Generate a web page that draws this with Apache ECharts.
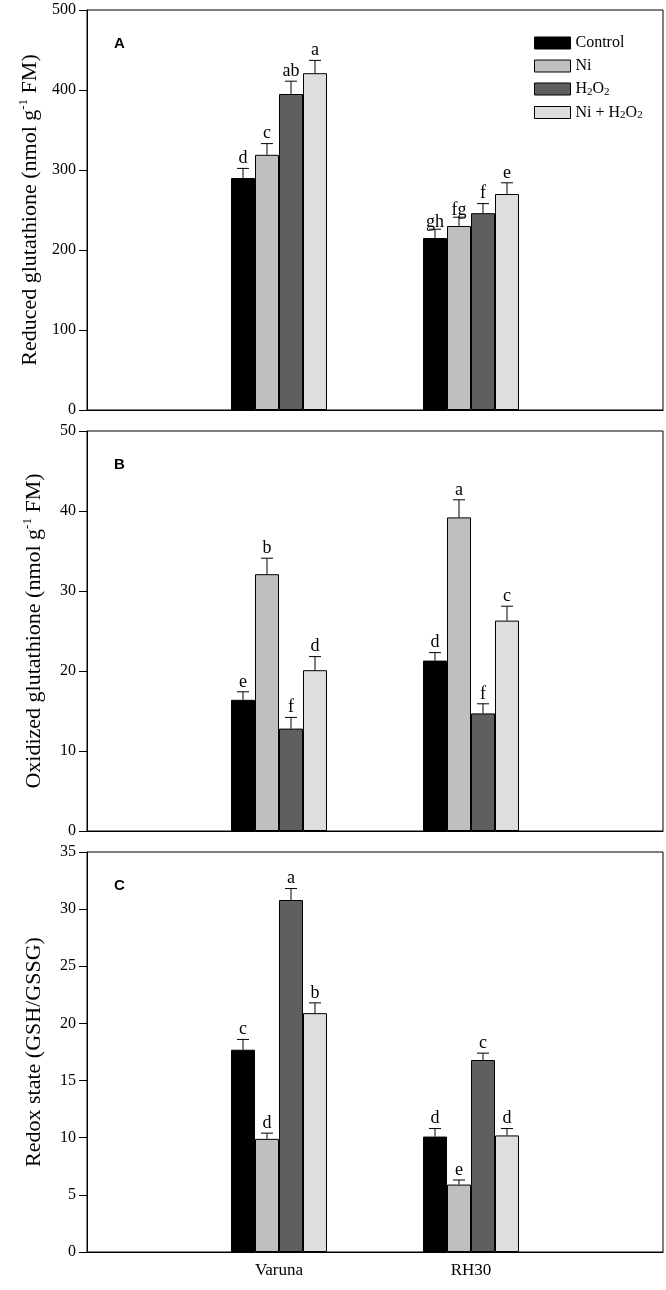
<!DOCTYPE html>
<html>
<head>
<meta charset="utf-8">
<script src="https://cdn.jsdelivr.net/npm/echarts@6/dist/echarts.min.js"></script>
<style>
html,body{margin:0;padding:0;background:#fff;}
#chart{width:666px;height:1290px;}
</style>
</head>
<body>
<div id="chart"></div>
<script>
// ---- data ----
const categories = ['', 'Varuna', 'RH30', ''];
const treatments = ['Control', 'Ni', 'H2O2', 'Ni + H2O2'];
const treatmentColors = ['#000000', '#bfbfbf', '#5f5f5f', '#dedede'];
const panelLabels = ['A', 'B', 'C'];

// Reduced glutathione (A): [Varuna, RH30] per treatment
const gshMean = [[290, 215], [319, 230], [395, 246], [421, 270]];
const gshErr = [[12, 11], [14, 11], [16, 12], [16, 14]];
const gshLetters = [['d', 'gh'], ['c', 'fg'], ['ab', 'f'], ['a', 'e']];

// Oxidized glutathione (B)
const gssgMean = [[16.4, 21.3], [32.1, 39.2], [12.8, 14.7], [20.1, 26.3]];
const gssgErr = [[1.0, 1.0], [2.0, 2.2], [1.4, 1.2], [1.7, 1.8]];
const gssgLetters = [['e', 'd'], ['b', 'a'], ['f', 'f'], ['d', 'c']];

// Redox state (C)
const redoxMean = [[17.7, 10.1], [9.9, 5.9], [30.8, 16.8], [20.9, 10.2]];
const redoxErr = [[0.9, 0.7], [0.5, 0.4], [1.0, 0.6], [0.9, 0.6]];
const redoxLetters = [['c', 'd'], ['d', 'e'], ['a', 'c'], ['b', 'd']];

const yMax = [500, 50, 35];
const yInterval = [100, 10, 5];
const yNames = [
  '{n|Reduced glutathione (nmol g}{sup|-1}{n| FM)}',
  '{n|Oxidized glutathione (nmol g}{sup|-1}{n| FM)}',
  '{n|Redox state (GSH/GSSG)}'
];

const panels = [
  { mean: gshMean, err: gshErr, letters: gshLetters },
  { mean: gssgMean, err: gssgErr, letters: gssgLetters },
  { mean: redoxMean, err: redoxErr, letters: redoxLetters }
];

// ---- layout ----
const SERIF = 'Liberation Serif';
const gridTops = [10, 431, 852];
const gridHeight = 400;

const legendNames = {
  'Control': '{n|Control}',
  'Ni': '{n|Ni}',
  'H2O2': '{n|H}{s|2}{n|O}{s|2}',
  'Ni + H2O2': '{n|Ni + H}{s|2}{n|O}{s|2}'
};

const grids = [], xAxes = [], yAxes = [], series = [], titles = [];

panels.forEach((p, pi) => {
  grids.push({
    left: 87, right: 3, top: gridTops[pi], height: gridHeight,
    show: true, borderColor: '#000', borderWidth: 1, backgroundColor: 'transparent'
  });
  xAxes.push({
    type: 'category', gridIndex: pi, data: categories, boundaryGap: false,
    axisLine: { show: true, lineStyle: { color: '#000', width: 1 } },
    axisTick: { show: false },
    axisLabel: {
      show: pi === 2, interval: 0, color: '#000', fontFamily: SERIF, fontSize: 17, margin: 10
    },
    splitLine: { show: false }
  });
  yAxes.push({
    type: 'value', gridIndex: pi, min: 0, max: yMax[pi], interval: yInterval[pi],
    axisLine: { show: true, lineStyle: { color: '#000', width: 1 } },
    axisTick: { show: true, inside: false, length: 8, lineStyle: { color: '#000' } },
    axisLabel: { color: '#000', fontFamily: SERIF, fontSize: 16, margin: 11 },
    splitLine: { show: false },
    name: yNames[pi], nameLocation: 'middle', nameGap: 40, nameRotate: 90,
    nameTextStyle: {
      rich: {
        n: { fontFamily: SERIF, fontSize: 22, color: '#000', lineHeight: 26 },
        sup: { fontFamily: SERIF, fontSize: 13, color: '#000', lineHeight: 14, verticalAlign: 'top' }
      }
    }
  });
  titles.push({
    text: panelLabels[pi], left: 109, top: gridTops[pi] + 21,
    textStyle: { fontFamily: 'Liberation Sans', fontWeight: 'bold', fontSize: 15, color: '#000' }
  });

  treatments.forEach((t, ti) => {
    series.push({
      type: 'bar', name: t, xAxisIndex: pi, yAxisIndex: pi,
      data: [null, p.mean[ti][0], p.mean[ti][1], null],
      barGap: '0%', barCategoryGap: '50%',
      itemStyle: { color: treatmentColors[ti], borderColor: '#000', borderWidth: 1 },
      emphasis: { disabled: true },
      animation: false
    });
  });

  // error bars + letters
  const items = [];
  treatments.forEach((t, ti) => {
    [0, 1].forEach(ci => {
      items.push({ value: [ci + 1, p.mean[ti][ci], p.err[ti][ci], ti], letter: p.letters[ti][ci] });
    });
  });
  series.push({
    type: 'custom', xAxisIndex: pi, yAxisIndex: pi, animation: false, silent: true, z: 5,
    data: items.map(d => d.value),
    renderItem: function (params, api) {
      const cat = api.value(0), m = api.value(1), e = api.value(2), ti = api.value(3);
      const base = api.coord([cat, m]);
      const top = api.coord([cat, m + e]);
      const band = api.size([1, 0])[0];
      const bw = band * 0.5 / 4;
      const x = base[0] + (ti - 1.5) * bw;
      const cap = 6;
      const letter = items[params.dataIndex].letter;
      const descender = /[gpqy]/.test(letter) ? 3 : 0;
      return {
        type: 'group',
        children: [
          { type: 'line', shape: { x1: x, y1: base[1], x2: x, y2: top[1] }, style: { stroke: '#000', lineWidth: 1 } },
          { type: 'line', shape: { x1: x - cap, y1: top[1], x2: x + cap, y2: top[1] }, style: { stroke: '#000', lineWidth: 1 } },
          { type: 'text', style: {
              text: letter, x: x, y: top[1] - 1 + descender,
              textAlign: 'center', textVerticalAlign: 'bottom',
              fontFamily: SERIF, fontSize: 18, fill: '#000'
            } }
        ]
      };
    }
  });
});

const chart = echarts.init(document.getElementById('chart'), null, { renderer: 'canvas' });
chart.setOption({
  backgroundColor: '#fff',
  animation: false,
  title: titles,
  grid: grids,
  xAxis: xAxes,
  yAxis: yAxes,
  legend: {
    data: treatments, orient: 'vertical', left: 529, top: 30,
    icon: 'rect', itemWidth: 36, itemHeight: 12, itemGap: 7,
    itemStyle: { borderColor: '#000', borderWidth: 1 },
    selectedMode: false,
    formatter: name => legendNames[name],
    textStyle: {
      rich: {
        n: { fontFamily: SERIF, fontSize: 16, color: '#000', lineHeight: 17 },
        s: { fontFamily: SERIF, fontSize: 11, color: '#000', lineHeight: 11, verticalAlign: 'bottom' }
      }
    }
  },
  series: series
});
</script>
</body>
</html>
